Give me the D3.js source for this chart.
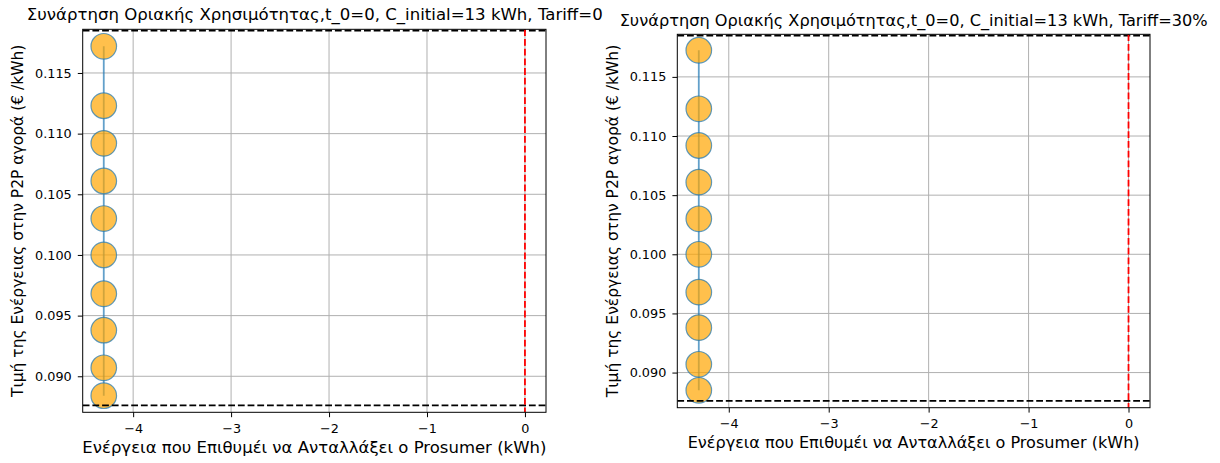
<!DOCTYPE html>
<html>
<head>
<meta charset="utf-8">
<script src="https://cdn.jsdelivr.net/npm/d3@7"></script>
<style>
  body { margin: 0; background: #fff; }
  svg { display: block; }
  text { font-family: "DejaVu Sans", sans-serif; fill: #000; }
</style>
</head>
<body>
<svg id="chart" width="1220" height="463"></svg>
<script>
// Energy the prosumer wants to exchange (kWh) and the matching P2P price (€/kWh)
const energyKWh = [-4.3, -4.3, -4.3, -4.3, -4.3, -4.3, -4.3, -4.3, -4.3, -4.3];
const priceTariff0 = [0.1172, 0.1123, 0.1092, 0.1061, 0.1030, 0.1000, 0.0968, 0.0938, 0.0907, 0.0884];
const priceTariff30 = [0.11725, 0.1123, 0.1092, 0.1061, 0.1030, 0.1000, 0.0968, 0.0938, 0.0907, 0.0885];

// Axis ranges and ticks
const xDomain = [-4.515, 0.215];
const yDomain = [0.08703, 0.11860];
const xTickValues = [-4, -3, -2, -1, 0];
const yTickValues = [0.090, 0.095, 0.100, 0.105, 0.110, 0.115];

// Reference lines: price floor / ceiling and zero exchange
const priceBounds = [0.0876, 0.1185];
const zeroExchange = [0];

// Texts
const titles = [
  "Συνάρτηση Οριακής Χρησιμότητας,t_0=0, C_initial=13 kWh, Tariff=0",
  "Συνάρτηση Οριακής Χρησιμότητας,t_0=0, C_initial=13 kWh, Tariff=30%"
];
const xLabel = "Ενέργεια που Επιθυμέι να Ανταλλάξει ο Prosumer (kWh)";
const yLabel = "Τιμή της Ενέργειας στην P2P αγορά (€ /kWh)";

// Panel layout
const panels = [
  { prices: priceTariff0, title: titles[0],
    left: 82.7, right: 546, top: 29.3, bottom: 412.3,
    titleX: 26.7, titleAnchor: "start", titleY: 20, titleLen: 576,
    xLabelY: 453.3, xLabelLen: 464, yLabelX: 22.7 },
  { prices: priceTariff30, title: titles[1],
    left: 677.3, right: 1150, top: 34.3, bottom: 407.7,
    titleX: null, titleAnchor: "middle", titleY: 26, titleLen: 588,
    xLabelY: 447.7, xLabelLen: 452, yLabelX: 618.3 }
];

const svg = d3.select("#chart");
const TICK = 4.9, TICK_FONT = 12.8, LABEL_FONT = 15.5;
const BLUE = "#1f77b4";

panels.forEach((p, i) => {
  const w = p.right - p.left, h = p.bottom - p.top;
  const x = d3.scaleLinear().domain(xDomain).range([p.left, p.right]);
  const y = d3.scaleLinear().domain(yDomain).range([p.bottom, p.top]);

  const clipId = "clip" + i;
  svg.append("clipPath").attr("id", clipId)
    .append("rect").attr("x", p.left).attr("y", p.top).attr("width", w).attr("height", h);

  const g = svg.append("g");

  // grid
  const grid = g.append("g").attr("clip-path", `url(#${clipId})`);
  grid.selectAll(".gx").data(xTickValues).join("line")
    .attr("x1", d => x(d)).attr("x2", d => x(d))
    .attr("y1", p.top).attr("y2", p.bottom)
    .attr("stroke", "#b0b0b0").attr("stroke-width", 1);
  grid.selectAll(".gy").data(yTickValues).join("line")
    .attr("x1", p.left).attr("x2", p.right)
    .attr("y1", d => y(d)).attr("y2", d => y(d))
    .attr("stroke", "#b0b0b0").attr("stroke-width", 1);

  // data: line with circular markers
  const plot = g.append("g").attr("clip-path", `url(#${clipId})`);
  const pts = energyKWh.map((e, k) => [e, p.prices[k]]);
  plot.append("path")
    .attr("d", d3.line().x(d => x(d[0])).y(d => y(d[1]))(pts))
    .attr("fill", "none").attr("stroke", BLUE).attr("stroke-opacity", 0.7)
    .attr("stroke-width", 1.8);
  plot.selectAll("circle").data(pts).join("circle")
    .attr("cx", d => x(d[0])).attr("cy", d => y(d[1])).attr("r", 12.8)
    .attr("fill", "orange").attr("fill-opacity", 0.7)
    .attr("stroke", BLUE).attr("stroke-opacity", 0.7).attr("stroke-width", 1.2);

  // reference lines
  plot.selectAll(".hb").data(priceBounds).join("line")
    .attr("x1", p.left).attr("x2", p.right)
    .attr("y1", d => y(d)).attr("y2", d => y(d))
    .attr("stroke", "#000").attr("stroke-width", 1.8).attr("stroke-dasharray", "6.8,2.9");
  plot.selectAll(".vz").data(zeroExchange).join("line")
    .attr("x1", d => x(d)).attr("x2", d => x(d))
    .attr("y1", p.top).attr("y2", p.bottom)
    .attr("stroke", "red").attr("stroke-width", 1.8).attr("stroke-dasharray", "6.8,2.9");

  // axes
  const ax = g.append("g").attr("transform", `translate(0,${p.bottom})`)
    .call(d3.axisBottom(x).tickValues(xTickValues).tickFormat(d3.format("d"))
      .tickSize(TICK).tickPadding(6.3).tickSizeOuter(0));
  const ay = g.append("g").attr("transform", `translate(${p.left},0)`)
    .call(d3.axisLeft(y).tickValues(yTickValues).tickFormat(d3.format(".3f"))
      .tickSize(TICK).tickPadding(6.1).tickSizeOuter(0));
  [ax, ay].forEach(a => {
    a.select(".domain").remove();
    a.selectAll(".tick line").attr("stroke", "#000").attr("stroke-width", 1);
    a.selectAll(".tick text").attr("font-family", "DejaVu Sans").attr("font-size", TICK_FONT).attr("fill", "#000");
  });

  // spines
  g.append("rect").attr("x", p.left).attr("y", p.top).attr("width", w).attr("height", h)
    .attr("fill", "none").attr("stroke", "#000").attr("stroke-width", 1);

  // title and labels
  g.append("text")
    .attr("x", p.titleX === null ? (p.left + p.right) / 2 : p.titleX)
    .attr("y", p.titleY).attr("text-anchor", p.titleAnchor)
    .attr("font-size", LABEL_FONT)
    .attr("textLength", p.titleLen).attr("lengthAdjust", "spacingAndGlyphs")
    .text(p.title);
  g.append("text")
    .attr("x", (p.left + p.right) / 2).attr("y", p.xLabelY).attr("text-anchor", "middle")
    .attr("font-size", LABEL_FONT)
    .attr("textLength", p.xLabelLen).attr("lengthAdjust", "spacingAndGlyphs")
    .text(xLabel);
  g.append("text")
    .attr("transform", `translate(${p.yLabelX},${(p.top + p.bottom) / 2}) rotate(-90)`)
    .attr("text-anchor", "middle").attr("font-size", LABEL_FONT).text(yLabel);
});
</script>
</body>
</html>
